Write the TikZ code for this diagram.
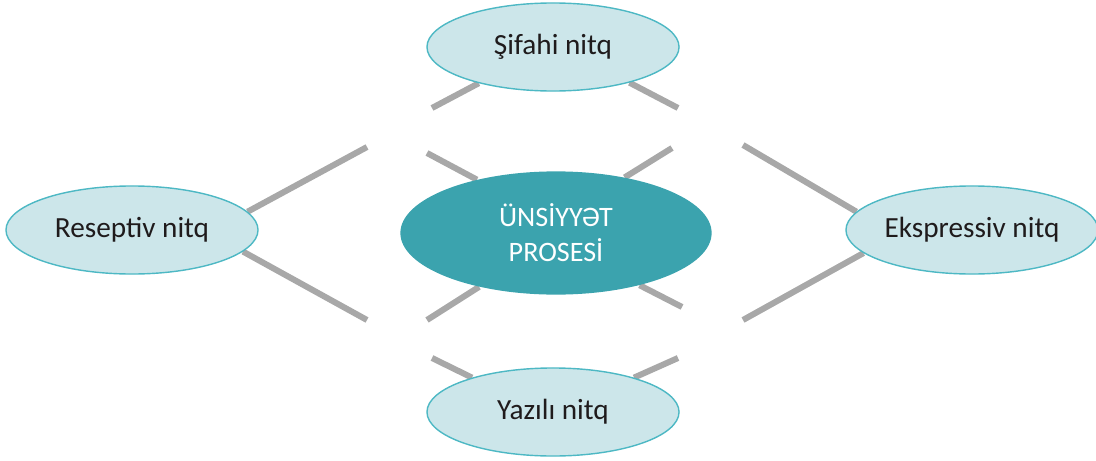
\documentclass[tikz,border=0pt]{standalone}
\usepackage{fontspec}
\setmainfont{Carlito}
\usepackage{xcolor}
\usetikzlibrary{shapes.geometric, backgrounds}
\definecolor{hubteal}{HTML}{3BA3AE}
\definecolor{leaffill}{HTML}{CCE6EA}
\definecolor{leafline}{HTML}{4DB8C4}
\definecolor{stubgrey}{HTML}{A8A8A8}
\definecolor{textdark}{HTML}{1F1B1C}

\begin{document}
\begin{tikzpicture}[
    x=0.025cm, y=-0.025cm,
    leaf/.style={ellipse, draw=leafline, line width=1pt, fill=leaffill, inner sep=0pt,
                 minimum width=6.3cm, minimum height=2.2cm, text=textdark,
                 font=\fontsize{20.8}{25}\selectfont},
    hub/.style={ellipse, fill=hubteal, inner sep=0pt, minimum width=7.78cm,
                minimum height=3.08cm, text=white, align=center,
                font=\fontsize{20}{25}\selectfont},
    stub/.style={draw=stubgrey, line width=4.3pt}
]
    \useasboundingbox (0,0) rectangle (1096,460);

    % Nodes
    \node[hub] (center) at (556,233) {ÜNSİYYƏT\\PROSESİ};
    \node[leaf] (sifahi) at (553,47) {Şifahi nitq};
    \node[leaf] (yazili) at (553,412) {Yazılı nitq};
    \node[leaf] (reseptiv) at (132,230) {Reseptiv nitq};
    \node[leaf] (ekspressiv) at (972,230) {Ekspressiv nitq};

    % Free ends of the stubs
    \coordinate (rUp) at (367,147);
    \coordinate (rDown) at (367,320);
    \coordinate (eUp) at (743,145);
    \coordinate (eDown) at (743,320);
    \coordinate (sLeft) at (432,108);
    \coordinate (sRight) at (678,108);
    \coordinate (yLeft) at (432,358);
    \coordinate (yRight) at (678,358);
    \coordinate (cUL) at (427,153);
    \coordinate (cUR) at (672,148);
    \coordinate (cLL) at (427,320);
    \coordinate (cLR) at (682,307);

    % Stubs
    \begin{scope}[on background layer]
        \draw[stub] (reseptiv.9) -- (rUp);
        \draw[stub] (reseptiv.-11) -- (rDown);
        \draw[stub] (ekspressiv.171) -- (eUp);
        \draw[stub] (ekspressiv.-168) -- (eDown);
        \draw[stub] (sifahi.-154) -- (sLeft);
        \draw[stub] (sifahi.-25) -- (sRight);
        \draw[stub] (yazili.157) -- (yLeft);
        \draw[stub] (yazili.23) -- (yRight);
        \draw[stub] (center.146) -- (cUL);
        \draw[stub] (center.39) -- (cUR);
        \draw[stub] (center.-145) -- (cLL);
        \draw[stub] (center.-32) -- (cLR);
    \end{scope}
\end{tikzpicture}
\end{document}
